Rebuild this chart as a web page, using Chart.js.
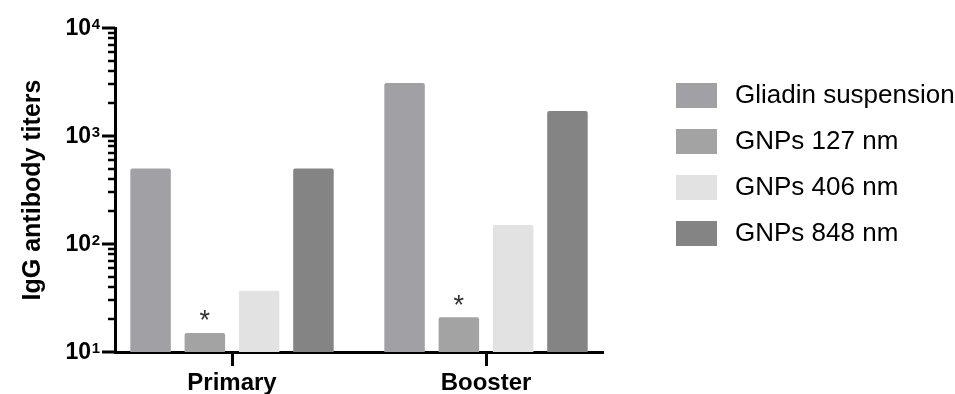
<!DOCTYPE html>
<html>
<head>
<meta charset="utf-8">
<script src="https://cdn.jsdelivr.net/npm/chart.js@4"></script>
<style>
  html, body { margin: 0; padding: 0; background: #fff; }
  #wrap { width: 955px; height: 394px; position: relative; }
</style>
</head>
<body>
<div id="wrap"><canvas id="c" width="955" height="394"></canvas></div>
<script>
// Groups along the x axis
const categories = ['Primary', 'Booster'];

// Series names and colours
const seriesNames = ['Gliadin suspension', 'GNPs 127 nm', 'GNPs 406 nm', 'GNPs 848 nm'];
const seriesColors = ['#a1a0a5', '#a3a3a3', '#e2e2e2', '#848484'];

// IgG titers per group (Primary, Booster)
const gliadinSuspension = [500, 3100];
const gnps127 = [15, 21];
const gnps406 = [37, 150];
const gnps848 = [500, 1700];

// Significance marks on the GNPs 127 nm bars
const gnps127Marks = ['*', '*'];

// Decade tick values on the log axis
const yTickValues = [10, 100, 1000, 10000];

const FONT = "'Liberation Sans', Arial, Helvetica, sans-serif";
const seriesValues = [gliadinSuspension, gnps127, gnps406, gnps848];

const datasets = seriesValues.map((vals, s) => ({
  label: seriesNames[s],
  data: vals.map((v, i) => ({ x: i, y: v })),
  backgroundColor: seriesColors[s],
  borderWidth: 0,
  borderRadius: 2,
  borderSkipped: 'bottom',
  categoryPercentage: 0.855,
  barPercentage: 0.746
}));

// Log axis: decade labels with superscript exponents plus major/minor tick marks
const logAxisDecor = {
  id: 'logAxisDecor',
  afterDraw(chart) {
    const y = chart.scales.y;
    const ctx = chart.ctx;
    const axisX = chart.chartArea.left;
    ctx.save();
    ctx.strokeStyle = '#000';
    ctx.lineCap = 'butt';
    for (let d = 1; d <= 4; d++) {
      for (let m = 1; m <= 9; m++) {
        const v = m * Math.pow(10, d);
        if (v > 10000) break;
        const py = Math.round(y.getPixelForValue(v));
        const major = (m === 1);
        ctx.lineWidth = major ? 3 : 2.5;
        ctx.beginPath();
        ctx.moveTo(axisX - (major ? 13 : 7), py);
        ctx.lineTo(axisX, py);
        ctx.stroke();
      }
    }
    ctx.fillStyle = '#000';
    yTickValues.forEach(v => {
      const py = y.getPixelForValue(v);
      const exp = String(Math.round(Math.log10(v)));
      ctx.font = 'bold 15px ' + FONT;
      const ew = ctx.measureText(exp).width;
      const right = axisX - 15;
      ctx.textAlign = 'left';
      ctx.textBaseline = 'alphabetic';
      ctx.fillText(exp, right - ew, py + 1);
      ctx.font = 'bold 23px ' + FONT;
      ctx.textAlign = 'right';
      ctx.fillText('10', right - ew - 0.5, py + 7);
    });
    ctx.restore();
  }
};

// Asterisks above the marked bars
const barMarks = {
  id: 'barMarks',
  afterDatasetsDraw(chart) {
    const ctx = chart.ctx;
    const meta = chart.getDatasetMeta(1);
    ctx.save();
    ctx.fillStyle = '#333';
    ctx.font = '27px ' + FONT;
    ctx.textAlign = 'center';
    ctx.textBaseline = 'middle';
    meta.data.forEach((bar, i) => {
      if (gnps127Marks[i]) ctx.fillText(gnps127Marks[i], bar.x, bar.y - 11);
    });
    ctx.restore();
  }
};

// Legend drawn to the right of the plot
const sideLegend = {
  id: 'sideLegend',
  afterDraw(chart) {
    const ctx = chart.ctx;
    ctx.save();
    chart.data.datasets.forEach((ds, i) => {
      const top = 83 + i * 46;
      ctx.fillStyle = ds.backgroundColor;
      ctx.fillRect(676, top, 41, 25);
      ctx.fillStyle = '#000';
      ctx.font = '26px ' + FONT;
      ctx.textAlign = 'left';
      ctx.textBaseline = 'middle';
      ctx.fillText(ds.label, 735, top + 13);
    });
    ctx.restore();
  }
};

new Chart(document.getElementById('c'), {
  type: 'bar',
  data: { datasets },
  options: {
    responsive: false,
    animation: false,
    layout: { padding: { left: 0, right: 352, top: 28, bottom: 0 } },
    plugins: { legend: { display: false }, tooltip: { enabled: false } },
    scales: {
      x: {
        type: 'linear',
        offset: false,
        min: -117 / 254,
        max: 1 + 117 / 254,
        afterBuildTicks(s) { s.ticks = categories.map((c, i) => ({ value: i })); },
        afterFit(s) { s.height = 42; },
        grid: { display: true, drawOnChartArea: false, drawTicks: true, tickLength: 14, tickWidth: 3, tickColor: '#000', offset: false },
        border: { display: true, width: 3, color: '#000' },
        ticks: {
          autoSkip: false,
          maxRotation: 0,
          padding: 3,
          color: '#000',
          font: { family: FONT, size: 24, weight: 'bold' },
          callback: (v) => categories[v]
        }
      },
      y: {
        type: 'logarithmic',
        min: 10,
        max: 10000,
        afterFit(s) { s.width = 115; },
        grid: { display: false },
        border: { display: true, width: 3, color: '#000' },
        ticks: { display: false },
        title: {
          display: true,
          text: 'IgG antibody titers',
          color: '#000',
          font: { family: FONT, size: 25, weight: 'bold' },
          padding: { top: 18, bottom: 0 }
        }
      }
    }
  },
  plugins: [logAxisDecor, barMarks, sideLegend]
});
</script>
</body>
</html>
